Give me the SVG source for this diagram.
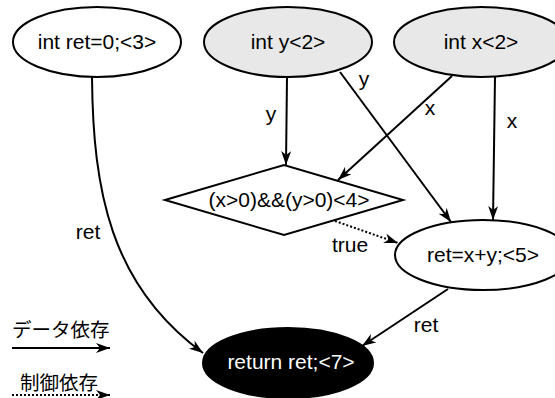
<svg xmlns="http://www.w3.org/2000/svg" width="555" height="398" viewBox="0 0 555 398">
<style>
text{font-family:"Liberation Sans","Noto Sans CJK JP",sans-serif;font-size:21px;fill:#000}
.c{text-anchor:middle}
.n{stroke:#000;stroke-width:2;fill:#fff}
.g{fill:#e8e8e8}
.e{fill:none;stroke:#000;stroke-width:2;marker-end:url(#ah)}
.d{stroke-dasharray:2,2}
.w{fill:#fff}
.j{font-size:19.5px}
</style>
<defs>
<marker id="ah" viewBox="0 0 14 10" refX="14" refY="5" markerWidth="14" markerHeight="10" markerUnits="userSpaceOnUse" orient="auto">
<path d="M0,0 L14,5 L0,10 L4,5 z" fill="#000"/>
</marker>
</defs>
<g id="n3"><ellipse class="n" cx="97" cy="42" rx="84" ry="35"/><text class="c" x="97" y="49">int ret=0;&lt;3&gt;</text></g>
<g id="ny"><ellipse class="n g" cx="288" cy="42" rx="84" ry="35"/><text class="c" x="288" y="49">int y&lt;2&gt;</text></g>
<g id="nx"><ellipse class="n g" cx="481" cy="42" rx="87" ry="35"/><text class="c" x="481" y="49">int x&lt;2&gt;</text></g>
<g id="n4"><polygon class="n" points="165,200 284,165 403,200 284,235"/><text class="c" x="289" y="207">(x&gt;0)&amp;&amp;(y&gt;0)&lt;4&gt;</text></g>
<g id="n5"><ellipse class="n" cx="483" cy="255" rx="88" ry="35"/><text class="c" x="483" y="262">ret=x+y;&lt;5&gt;</text></g>
<g id="n7"><ellipse cx="288" cy="363" rx="85" ry="35" fill="#000" stroke="#000" stroke-width="2"/><text class="c w" x="291" y="369">return ret;&lt;7&gt;</text></g>
<g id="edges">
<path class="e" d="M92,77 C93,190 110,285 203,353"/>
<path class="e" d="M287,77 L286,165"/>
<path class="e" d="M340,72 L451,222"/>
<path class="e" d="M452,76 L338,180"/>
<path class="e" d="M495,77 L493,220"/>
<path class="e d" d="M335,221 L398,243"/>
<path class="e" d="M448,289 L362,346"/>
<text class="c" x="271" y="121">y</text>
<text class="c" x="364" y="86">y</text>
<text class="c" x="430" y="115">x</text>
<text class="c" x="512" y="128">x</text>
<text class="c" x="88" y="239">ret</text>
<text class="c" x="350" y="252">true</text>
<text class="c" x="426" y="332">ret</text>
</g>
<g id="legend">
<text class="j" x="12" y="337">データ依存</text>
<path class="e" d="M12,348 L110,348"/>
<text class="j" x="20" y="390">制御依存</text>
<path class="e d" d="M12,395 L110,395"/>
</g>
</svg>
